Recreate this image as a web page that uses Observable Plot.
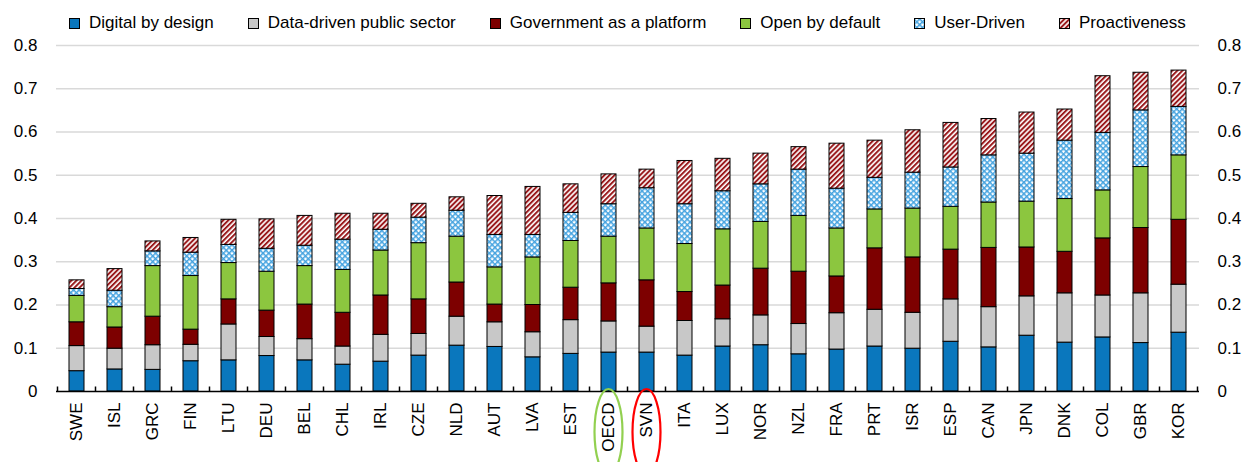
<!DOCTYPE html>
<html><head><meta charset="utf-8">
<script src="https://cdn.jsdelivr.net/npm/d3@7"></script>
<script src="https://cdn.jsdelivr.net/npm/@observablehq/plot@0.6"></script>
<style>
body{margin:0;background:#fff;font-family:"Liberation Sans",Arial,sans-serif;}
#legend{height:40px;width:1247px;display:flex;align-items:center;gap:34px;padding-left:69px;padding-top:6px;box-sizing:border-box;}
.item{display:flex;align-items:center;gap:9px;font-size:17px;color:#000;white-space:nowrap;}
.item svg{display:block;}
#chart svg{display:block;overflow:visible;}
</style></head><body>
<svg width="0" height="0" style="position:absolute">
  <defs>
    <pattern id="stripes" width="3.6" height="3.6" patternUnits="userSpaceOnUse" patternTransform="rotate(45)">
      <rect width="3.6" height="3.6" fill="#fff"/>
      <rect width="2" height="3.6" fill="#9a1a1d"/>
    </pattern>
    <pattern id="checks" width="4" height="4" patternUnits="userSpaceOnUse" patternTransform="rotate(45)">
      <rect width="4" height="4" fill="#fff"/>
      <rect width="4" height="1.5" fill="#43a2df"/>
      <rect width="1.5" height="4" fill="#43a2df"/>
    </pattern>
  </defs>
</svg>
<div id="legend"></div>
<div id="chart"></div>
<script>
const countries = ["SWE","ISL","GRC","FIN","LTU","DEU","BEL","CHL","IRL","CZE","NLD","AUT","LVA","EST","OECD","SVN","ITA","LUX","NOR","NZL","FRA","PRT","ISR","ESP","CAN","JPN","DNK","COL","GBR","KOR"];
const seriesNames = ["Digital by design","Data-driven public sector","Government as a platform","Open by default","User-Driven","Proactiveness"];
const digitalByDesign = [0.047,0.051,0.050,0.070,0.072,0.082,0.072,0.062,0.069,0.083,0.106,0.103,0.079,0.087,0.090,0.090,0.083,0.104,0.107,0.086,0.097,0.104,0.099,0.115,0.102,0.129,0.113,0.125,0.112,0.136];
const dataDriven = [0.058,0.048,0.057,0.038,0.083,0.044,0.049,0.042,0.062,0.050,0.067,0.057,0.058,0.078,0.072,0.060,0.080,0.063,0.069,0.070,0.084,0.085,0.083,0.098,0.093,0.091,0.114,0.097,0.115,0.111];
const platform = [0.055,0.049,0.066,0.035,0.058,0.061,0.080,0.078,0.091,0.080,0.079,0.041,0.063,0.075,0.088,0.107,0.067,0.078,0.108,0.121,0.085,0.142,0.128,0.115,0.137,0.113,0.096,0.132,0.151,0.150];
const openByDefault = [0.061,0.047,0.117,0.124,0.084,0.090,0.089,0.099,0.104,0.130,0.106,0.086,0.110,0.108,0.108,0.120,0.111,0.130,0.108,0.129,0.111,0.090,0.113,0.099,0.105,0.106,0.122,0.111,0.141,0.149];
const userDriven = [0.016,0.038,0.034,0.054,0.042,0.053,0.047,0.070,0.048,0.059,0.060,0.075,0.052,0.065,0.075,0.093,0.092,0.088,0.087,0.107,0.092,0.073,0.083,0.091,0.109,0.111,0.135,0.133,0.131,0.112];
const proactiveness = [0.020,0.050,0.023,0.034,0.058,0.068,0.069,0.060,0.037,0.032,0.031,0.090,0.111,0.066,0.069,0.043,0.100,0.075,0.071,0.052,0.104,0.086,0.098,0.103,0.084,0.095,0.072,0.131,0.087,0.084];
const yTicks = [0,0.1,0.2,0.3,0.4,0.5,0.6,0.7,0.8];

const seriesValues = [digitalByDesign, dataDriven, platform, openByDefault, userDriven, proactiveness];
const fills = ["#0a77bd","#c8c8c8","#7d0000","#8cc63f","url(#checks)","url(#stripes)"];

const data = [];
countries.forEach((c, i) => {
  seriesNames.forEach((s, j) => data.push({country: c, series: s, value: seriesValues[j][i]}));
});

// legend
const legend = document.getElementById("legend");
seriesNames.forEach((s, j) => {
  const item = document.createElement("div");
  item.className = "item";
  item.innerHTML = `<svg width="11" height="11"><rect x="0.5" y="0.5" width="10" height="10" fill="${fills[j]}" stroke="#000" stroke-width="1"/></svg><span>${s}</span>`;
  legend.appendChild(item);
});

const font = getComputedStyle(document.body).fontFamily;
const chart = Plot.plot({
  width: 1247,
  height: 422,
  marginLeft: 56,
  marginRight: 48,
  marginTop: 5,
  marginBottom: 71,
  style: {fontFamily: font, fontSize: "17px", color: "#000", background: "#fff", overflow: "visible"},
  x: {type: "band", domain: countries, paddingInner: 0.6, paddingOuter: 0.3, label: null},
  y: {domain: [0, 0.8], label: null},
  color: {type: "ordinal", domain: seriesNames, range: fills},
  marks: [
    Plot.gridY(yTicks.slice(1), {stroke: "#d9d9d9", strokeOpacity: 1, strokeWidth: 1.5}),
    Plot.barY(data, {x: "country", y: "value", fill: "series", stroke: "#000", strokeWidth: 1}),
    Plot.ruleY([0], {stroke: "#000", strokeWidth: 1.5}),
    Plot.axisY({anchor: "left", ticks: yTicks, tickSize: 0, tickPadding: 19, tickFormat: d => d === 0 ? "0" : d.toFixed(1), fontSize: 17}),
    Plot.axisY({anchor: "right", ticks: yTicks, tickSize: 0, tickPadding: 18, tickFormat: d => d === 0 ? "0" : d.toFixed(1), fontSize: 17}),
    Plot.axisX({tickSize: 0, tickRotate: -90, tickPadding: 11, fontSize: 17})
  ]
});
document.getElementById("chart").appendChild(chart);

// band-boundary tick marks and highlight ellipses, placed with the plot's own scales
const xs = chart.scale("x"), ys = chart.scale("y");
const svg = d3.select(chart);
const y0 = ys.apply(0);
const gap = (xs.step - xs.bandwidth) / 2;
const bounds = countries.map(c => xs.apply(c) - gap).concat([xs.apply(countries[countries.length - 1]) + xs.bandwidth + gap]);
svg.append("g").selectAll("line").data(bounds).join("line")
  .attr("x1", d => d).attr("x2", d => d).attr("y1", y0).attr("y2", y0 - 4.5)
  .attr("stroke", "#000").attr("stroke-width", 1.5);

const highlights = [{country: "OECD", color: "#92d050"}, {country: "SVN", color: "#ff0000"}];
svg.append("g").selectAll("ellipse").data(highlights).join("ellipse")
  .attr("cx", d => xs.apply(d.country) + xs.bandwidth / 2)
  .attr("cy", y0 + 41)
  .attr("rx", 14)
  .attr("ry", 43)
  .attr("fill", "none")
  .attr("stroke", d => d.color)
  .attr("stroke-width", 2.2);
</script>
</body></html>
